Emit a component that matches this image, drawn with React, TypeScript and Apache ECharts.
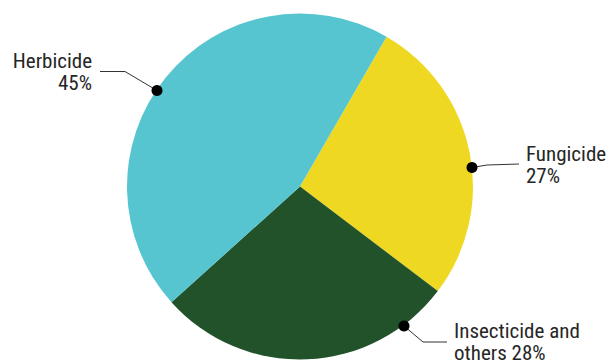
import React, { useEffect, useRef } from "react";
import * as echarts from "echarts";

const categories = ["Fungicide", "Insecticide and\nothers", "Herbicide"];
const values = [27, 28, 45];
const colors = ["#EFD821", "#22522A", "#56C5D0"];

// label layout (positions only)
const labelAnchors = [
  { x: 526, y: 143, align: "left", line: [[472, 167.5], [487, 165], [519, 164]] },
  { x: 454, y: 320, align: "left", line: [[404, 326], [423, 342], [447, 342]] },
  { x: 92, y: 50, align: "right", line: [[157, 90.5], [125, 71.5], [100, 71.5]] },
];

export default function App() {
  const ref = useRef<HTMLDivElement>(null);
  useEffect(() => {
    const chart = echarts.init(ref.current!, null, { renderer: "svg" });
    chart.setOption({
      animation: false,
      series: [
        {
          type: "pie",
          center: [300, 186.5],
          radius: [0, 173],
          startAngle: 60,
          clockwise: true,
          data: categories.map((c, i) => ({
            name: c,
            value: values[i],
            itemStyle: { color: colors[i] },
          })),
          label: {
            show: true,
            formatter: (p: any) =>
              p.dataIndex === 1
                ? "Insecticide and\nothers " + p.value + "%"
                : p.name + "\n" + p.value + "%",
            fontFamily: "'Roboto Condensed', 'Liberation Sans Narrow', 'Arial Narrow', Roboto, sans-serif",
            fontSize: 21,
            lineHeight: 22,
            color: "#262626",
            overflow: "none",
            width: 200,
          },
          labelLine: {
            show: true,
            lineStyle: { color: "#333", width: 1 },
          },
          labelLayout: (params: any) => {
            const a = labelAnchors[params.dataIndex];
            return {
              x: a.x,
              y: a.y,
              align: a.align,
              verticalAlign: "top",
              labelLinePoints: a.line,
            };
          },
          emphasis: { disabled: true },
        },
      ],
      graphic: labelAnchors.map((a) => ({
        type: "circle",
        shape: { cx: a.line[0][0], cy: a.line[0][1], r: 5.5 },
        style: { fill: "#000" },
        z: 100,
      })),
    });
    return () => chart.dispose();
  }, []);
  return <div ref={ref} style={{ width: 610, height: 360, position: "absolute", left: 0, top: 0 }} />;
}
